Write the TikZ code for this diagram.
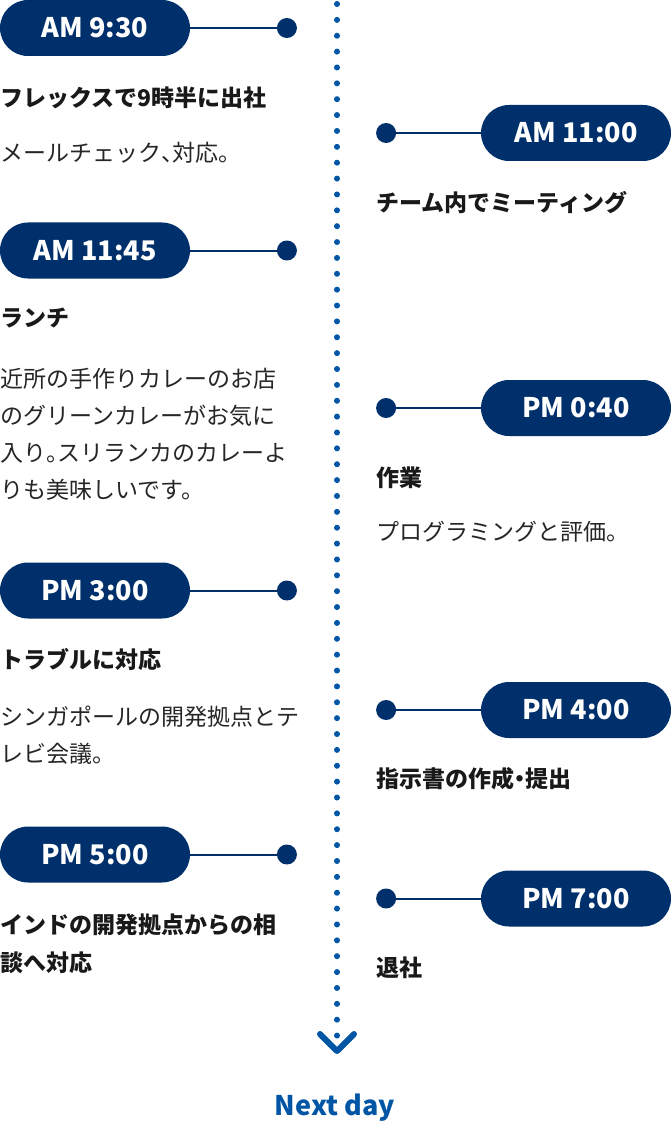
\documentclass[tikz,border=0pt]{standalone}
\usepackage{fontspec}
\setmainfont{Noto Sans CJK JP}
\usetikzlibrary{positioning}
\definecolor{navy}{HTML}{00306B}
\definecolor{dotblue}{HTML}{0055A5}
\newcommand{\hw}[1]{{\addfontfeature{RawFeature=+halt}#1}}
\tikzstyle{pill} = [rectangle, fill=navy, text=white, rounded corners=28pt, minimum width=190pt, minimum height=56pt, inner sep=0pt, font=\fontsize{27}{27}\selectfont\bfseries]
\tikzstyle{pin} = [circle, fill=navy, minimum size=20pt, inner sep=0pt]
\tikzstyle{link} = [draw=navy, line width=2pt]
\tikzstyle{title} = [anchor=west, inner sep=0pt, align=left, text=black!90, font=\fontsize{23}{38}\selectfont\bfseries]
\tikzstyle{desc} = [anchor=west, inner sep=0pt, align=left, text=black!85, font=\fontsize{23}{37}\selectfont]
\tikzstyle{spine} = [draw=dotblue, line width=6pt, line cap=round, dash pattern=on 0pt off 15.87pt]
\tikzstyle{chevron} = [draw=dotblue, line width=6pt, line cap=round, line join=round]

\begin{document}
\begin{tikzpicture}[x=1pt,y=-1pt]
    \useasboundingbox (0,0) rectangle (671,1123);
    % dotted time line
    \coordinate (top) at (337,4);
    \coordinate (bot) at (337,1036);
    \coordinate (tip) at (337,1051);
    \path [spine] (top) -- (bot);
    \path [chevron] (tip) +(-17,-17) -- (tip) -- +(17,-17);
    \node [text=dotblue, font=\fontsize{27}{27}\selectfont\bfseries, anchor=base] (next) at (335,1115) {Next day};
    % left column
    \node [pill] (p0930) at (95,28) {AM 9:30};
    \node [pin, right=86.5pt of p0930] (d0930) {};
    \path [link] (p0930) -- (d0930);
    \node [title] (h0930) at (0,98) {フレックスで9時半に出社};
    \node [desc] (t0930) at (0,153) {メールチェック\hw{、}対応。};
    \node [pill] (p1145) at (95,250.5) {AM 11:45};
    \node [pin, right=86.5pt of p1145] (d1145) {};
    \path [link] (p1145) -- (d1145);
    \node [title] (h1145) at (0,318) {ランチ};
    \node [desc] (t1145) at (0,434) {近所の手作りカレーのお店\\のグリーンカレーがお気に\\入り\hw{。}スリランカのカレーよ\\りも美味しいです。};
    \node [pill] (p1500) at (95,590.5) {PM 3:00};
    \node [pin, right=86.5pt of p1500] (d1500) {};
    \path [link] (p1500) -- (d1500);
    \node [title] (h1500) at (0,660) {トラブルに対応};
    \node [desc] (t1500) at (0,735.5) {シンガポールの開発拠点とテ\\レビ会議。};
    \node [pill] (p1700) at (95,854.5) {PM 5:00};
    \node [pin, right=86.5pt of p1700] (d1700) {};
    \path [link] (p1700) -- (d1700);
    \node [title] (h1700) at (0,944) {インドの開発拠点からの相\\談へ対応};
    % right column
    \node [pill] (p1100) at (576,133) {AM 11:00};
    \node [pin, left=84.5pt of p1100] (d1100) {};
    \path [link] (p1100) -- (d1100);
    \node [title] (h1100) at (376,203) {チーム内でミーティング};
    \node [pill] (p1240) at (576,408) {PM 0:40};
    \node [pin, left=84.5pt of p1240] (d1240) {};
    \path [link] (p1240) -- (d1240);
    \node [title] (h1240) at (376,478) {作業};
    \node [desc] (t1240) at (376,532) {プログラミングと評価。};
    \node [pill] (p1600) at (576,710) {PM 4:00};
    \node [pin, left=84.5pt of p1600] (d1600) {};
    \path [link] (p1600) -- (d1600);
    \node [title] (h1600) at (376,779) {指示書の作成\hw{・}提出};
    \node [pill] (p1900) at (576,898.5) {PM 7:00};
    \node [pin, left=84.5pt of p1900] (d1900) {};
    \path [link] (p1900) -- (d1900);
    \node [title] (h1900) at (376,968) {退社};
\end{tikzpicture}
\end{document}
